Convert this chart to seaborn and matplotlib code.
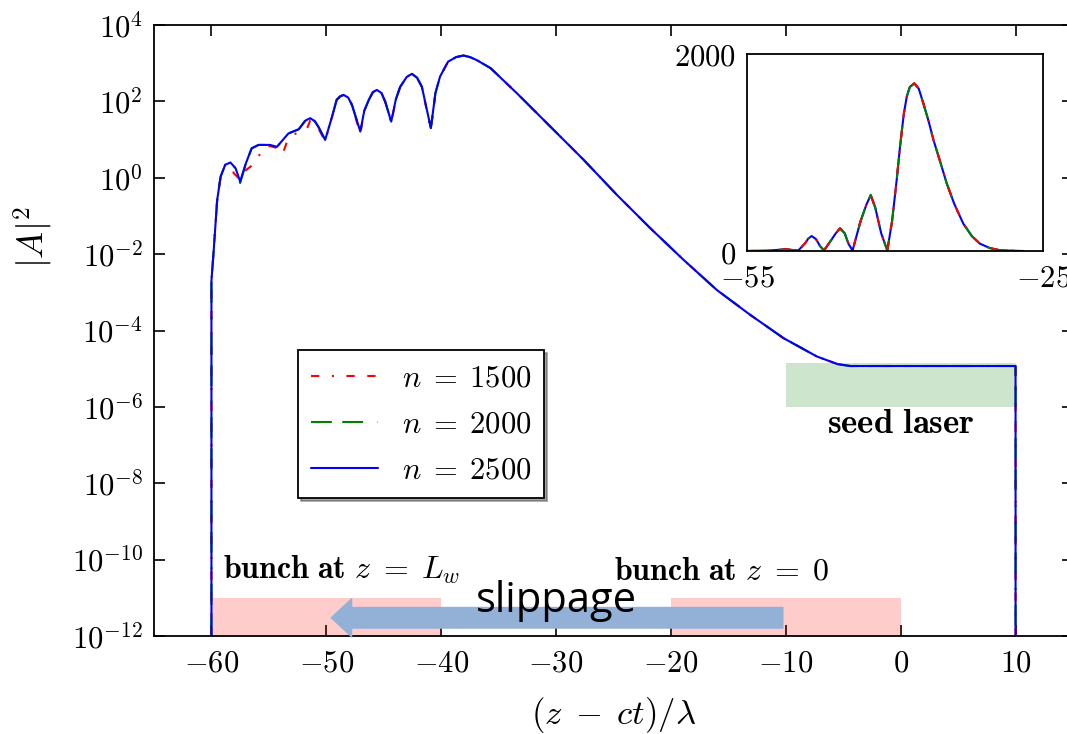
import numpy as np
import pandas as pd
import matplotlib
matplotlib.use('Agg')
import matplotlib.pyplot as plt
import seaborn as sns
from matplotlib.ticker import NullLocator

# --- data ----------------------------------------------------------------
# main panel: x = (z - ct)/lambda, values are log10 |A|^2
x_main = [-60.0, -60.0, -59.8, -59.5, -59.2, -58.8, -58.35, -57.9, -57.5, -57.0,
          -56.5, -55.9, -54.9, -54.3, -53.3, -52.4, -51.8, -51.4, -51.0, -50.7,
          -50.1, -49.5, -49.1, -48.8, -48.5, -48.1, -47.77, -47.04, -46.7, -46.3,
          -45.95, -45.6, -45.2, -44.87, -44.35, -43.95, -43.57, -43.0, -42.55, -42.1,
          -41.68, -40.9, -40.5, -40.1, -39.4, -38.7, -38.06, -37.5, -36.9, -35.7,
          -33.4, -30.5, -27.6, -24.7, -21.8, -18.9, -16.0, -13.1, -10.2, -7.3,
          -5.5, -4.4, 10.0, 10.0]
logA2_n2500 = [-12.0, -2.7, -1.89, -0.58, 0.03, 0.34, 0.40, 0.25, -0.10, 0.38,
               0.77, 0.86, 0.86, 0.81, 1.16, 1.27, 1.50, 1.56, 1.48, 1.34,
               0.99, 1.60, 2.04, 2.13, 2.17, 2.10, 1.91, 1.21, 1.75, 2.04,
               2.24, 2.30, 2.22, 1.99, 1.47, 2.05, 2.38, 2.64, 2.72, 2.62,
               2.38, 1.30, 2.22, 2.65, 3.04, 3.16, 3.20, 3.16, 3.08, 2.87,
               2.21, 1.34, 0.47, -0.45, -1.32, -2.15, -2.94, -3.59, -4.20, -4.68,
               -4.88, -4.93, -4.93, -12.0]
# n=2000 sits on top of n=2500 everywhere
logA2_n2000 = [-12.0, -2.7, -1.89, -0.58, 0.03, 0.34, 0.40, 0.25, -0.14, 0.38,
               0.77, 0.86, 0.86, 0.81, 1.16, 1.27, 1.52, 1.58, 1.48, 1.34,
               0.99, 1.60, 2.04, 2.13, 2.17, 2.10, 1.91, 1.21, 1.75, 2.04,
               2.24, 2.30, 2.22, 1.99, 1.47, 2.05, 2.38, 2.64, 2.72, 2.62,
               2.38, 1.30, 2.22, 2.65, 3.04, 3.16, 3.20, 3.16, 3.08, 2.87,
               2.21, 1.34, 0.47, -0.45, -1.32, -2.15, -2.94, -3.59, -4.20, -4.68,
               -4.88, -4.93, -4.93, -12.0]
# n=1500 dips a little lower between -58 and -52
x_n1500 = [-60.0, -60.0, -59.8, -59.5, -59.2, -58.8, -58.35, -58.06, -57.5, -57.0,
           -56.2, -55.5, -54.9, -54.3, -53.8, -53.3, -52.4, -51.7, -51.4, -50.7,
           -50.1, -49.5, -49.1, -48.8, -48.5, -48.1, -47.77, -47.04, -46.7, -46.3,
           -45.95, -45.6, -45.2, -44.87, -44.35, -43.95, -43.57, -43.0, -42.55, -42.1,
           -41.68, -40.9, -40.5, -40.1, -39.4, -38.7, -38.06, -37.5, -36.9, -35.7,
           -33.4, -30.5, -27.6, -24.7, -21.8, -18.9, -16.0, -13.1, -10.2, -7.3,
           -5.5, -4.4, 10.0, 10.0]
logA2_n1500 = [-12.0, -2.7, -1.89, -0.58, 0.03, 0.34, 0.35, 0.12, -0.05, 0.20,
               0.38, 0.78, 0.83, 0.78, 0.62, 1.05, 1.20, 1.27, 1.50, 1.30,
               0.95, 1.60, 2.04, 2.13, 2.17, 2.10, 1.91, 1.15, 1.75, 2.04,
               2.24, 2.30, 2.22, 1.99, 1.42, 2.05, 2.38, 2.64, 2.72, 2.62,
               2.38, 1.25, 2.22, 2.65, 3.04, 3.16, 3.20, 3.16, 3.08, 2.87,
               2.21, 1.34, 0.47, -0.45, -1.32, -2.15, -2.94, -3.59, -4.20, -4.68,
               -4.88, -4.93, -4.93, -12.0]

# inset: linear |A|^2 around the main pulse
x_inset = [-55.0, -53.0, -51.8, -51.1, -50.4, -49.8, -49.1, -48.8, -48.44, -48.0,
           -47.6, -47.2, -46.4, -46.0, -45.57, -45.1, -44.7, -44.3, -43.5, -42.9,
           -42.46, -42.0, -41.4, -40.78, -40.3, -39.83, -39.5, -39.1, -38.8, -38.5,
           -38.04, -37.6, -37.13, -36.6, -36.1, -35.4, -34.76, -34.0, -33.08, -32.2,
           -31.4, -30.4, -29.35, -27.0]
A2_inset = [0, 3, 12, 18, 10, 5, 80, 125, 152, 120,
            50, 5, 120, 180, 230, 180, 70, 5, 300, 470,
            568, 440, 180, 5, 300, 720, 1050, 1398, 1570, 1665,
            1702, 1650, 1500, 1320, 1127, 900, 687, 480, 278, 150,
            75, 30, 7, 0]

labels = [r'$n\;=\;1500$', r'$n\;=\;2000$', r'$n\;=\;2500$']
colors = ['red', 'green', 'blue']
dash_patterns = [(4, 6, 1, 6, 4, 6), (10, 5, 10, 7, 1, 7), '']

xticks = [-60, -50, -40, -30, -20, -10, 0, 10]
ytick_exps = [-12, -10, -8, -6, -4, -2, 0, 2, 4]

# shaded regions (x range, |A|^2 range)
bunch_end = (-60, -40)
bunch_start = (-20, 0)
bunch_band = (1e-12, 1e-11)
seed_x = (-10, 10)
seed_band = (1e-6, 1.4e-5)

# --- style ----------------------------------------------------------------
sns.set_style('ticks', {'xtick.direction': 'in', 'ytick.direction': 'in',
                        'axes.edgecolor': 'black', 'xtick.color': 'black',
                        'ytick.color': 'black', 'text.color': 'black',
                        'axes.labelcolor': 'black'})
plt.rcParams['font.family'] = ['DejaVu Serif']
plt.rcParams['mathtext.fontset'] = 'cm'

palette = dict(zip(labels, colors))
dash_map = dict(zip(labels, dash_patterns))


def curve(x, y, label):
    return pd.DataFrame({'x': x, 'A2': y, 'n': label})


main_df = pd.concat([
    curve(x_n1500, 10.0 ** np.array(logA2_n1500), labels[0]),
    curve(x_main, 10.0 ** np.array(logA2_n2000), labels[1]),
    curve(x_main, 10.0 ** np.array(logA2_n2500), labels[2]),
], ignore_index=True)
inset_df = pd.concat([curve(x_inset, A2_inset, lab) for lab in labels], ignore_index=True)

fig = plt.figure(figsize=(10.67, 7.34), dpi=100)
ax = fig.add_axes([154 / 1067, 1 - 636 / 734, (1073 - 154) / 1067, 611 / 734])
ax.set_yscale('log')

sns.lineplot(data=main_df, x='x', y='A2', hue='n', style='n', hue_order=labels,
             style_order=labels, palette=palette, dashes=dash_map, estimator=None,
             sort=False, lw=1.5, legend=False, ax=ax)

ax.fill_between(bunch_end, *bunch_band, color='red', alpha=0.2, lw=0)
ax.fill_between(bunch_start, *bunch_band, color='red', alpha=0.2, lw=0)
ax.fill_between(seed_x, *seed_band, color='green', alpha=0.2, lw=0)

ax.set_xlim(-65, 15)
ax.set_ylim(1e-12, 1e4)
ax.set_xticks(xticks, labels=[f'${v}$' for v in xticks])
ax.set_yticks([10.0 ** e for e in ytick_exps], labels=[f'$10^{{{e}}}$' for e in ytick_exps])
ax.yaxis.set_minor_locator(NullLocator())
ax.tick_params(which='both', direction='in', top=True, right=True, length=8,
               width=1.2, labelsize=22, pad=8)
for s in ax.spines.values():
    s.set_linewidth(1.3)

ax.set_xlabel(r'$(z\;-\;ct)/\lambda$', fontsize=25, labelpad=12)
ax.set_ylabel(r'$|A|^2$', fontsize=26)
ax.yaxis.set_label_coords(-0.108, 0.653)

ax.text(-59.0, 10 ** -10.5, r'$\mathbf{bunch\ at}\ z\;=\;L_w$', fontsize=23, va='baseline')
ax.text(-25.0, 10 ** -10.52, r'$\mathbf{bunch\ at}\ z\;=\;0$', fontsize=23, va='baseline')
ax.text(-6.4, 10 ** -6.68, r'$\mathbf{seed\ laser}$', fontsize=25, va='baseline')

# slippage arrow
ax.annotate('', xy=(-49.65, 3e-12), xytext=(-10.2, 3e-12),
            arrowprops=dict(arrowstyle='simple,head_length=15.8,head_width=29.5,tail_width=15.8',
                            mutation_scale=1, color='#93b1d7', lw=0, shrinkA=0, shrinkB=0),
            zorder=4)
ax.text(-30.0, 10 ** -11.37, 'slippage', fontsize=30, family=['Open Sans', 'DejaVu Sans'],
        ha='center', va='baseline', zorder=6)

leg = ax.legend(ax.lines[:3], labels, loc='upper left', bbox_to_anchor=(0.157, 0.468),
                borderaxespad=0, fancybox=False, shadow=True, framealpha=1,
                edgecolor='black', fontsize=22, handlelength=2.2, handletextpad=0.8)
leg.get_frame().set_linewidth(1.3)

# inset
ax_in = fig.add_axes([747 / 1067, 1 - 251 / 734, 296 / 1067, 197 / 734])
sns.lineplot(data=inset_df, x='x', y='A2', hue='n', style='n', hue_order=labels[::-1],
             style_order=labels, palette=palette, dashes=dash_map, estimator=None,
             sort=False, lw=1.5, legend=False, ax=ax_in)
ax_in.set_xlim(-55, -25)
ax_in.set_ylim(0, 2000)
ax_in.set_xticks([-55, -25], labels=['$-55$', '$-25$'])
ax_in.set_yticks([0, 2000], labels=['$0$', '$2000$'])
ax_in.tick_params(direction='in', length=0, labelsize=22, pad=8)
ax_in.set_xlabel('')
ax_in.set_ylabel('')
for s in ax_in.spines.values():
    s.set_linewidth(1.3)

fig.savefig('out.png', dpi=100)
